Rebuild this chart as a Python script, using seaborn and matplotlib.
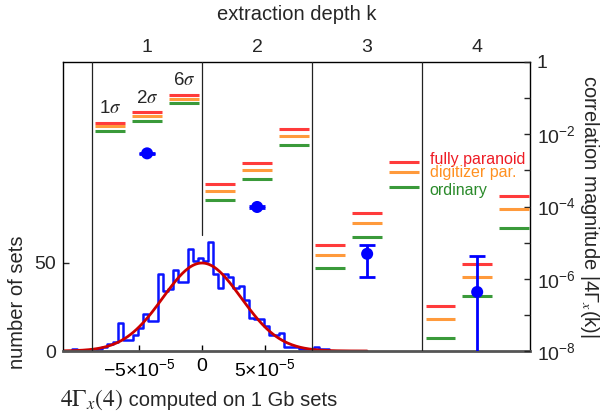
import numpy as np
import pandas as pd
import matplotlib
matplotlib.use("Agg")
import matplotlib.pyplot as plt
import seaborn as sns
from matplotlib.ticker import FixedLocator, FixedFormatter, NullLocator
from matplotlib.offsetbox import TextArea, HPacker, AnnotationBbox

# ---------------- data ----------------
# histogram of 4Gamma_x(4) (bin centres in units of 1e-6) and counts
hist_centers_1e6 = [-101, -97, -93, -89, -85, -81, -77, -73, -69, -65, -61, -57, -53, -49,
                    -45, -41, -37, -33, -29, -25, -21, -17, -13, -9, -5, -1, 3, 7, 11, 15,
                    19, 23, 27, 31, 35, 39, 43, 47, 51, 55, 59, 63, 67, 71, 75, 79, 83, 87,
                    91, 95, 99]
hist_counts = [1, 0, 0, 0, 0, 1, 2, 4, 5, 16, 6, 6, 9, 13,
               21, 17, 17, 44, 34, 35, 46, 39, 39, 58, 51, 53, 51, 62, 44, 36,
               44, 42, 36, 37, 29, 19, 18, 18, 14, 9, 9, 10, 2, 2, 2, 1, 1, 1,
               2, 1, 1]
hist_bin_width = 4e-6

# Gaussian fit parameters
fit_amplitude = 50.0
fit_mean = 0.0
fit_sigma = 3.1e-5
fit_xmin, fit_xmax = -1.1e-4, 1.31e-4

# bounds per extraction depth k, columns: 1 sigma, 2 sigma, 6 sigma
depths = [1, 2, 3, 4]
sigma_labels = ["1", "2", "6"]
fully_paranoid = [[2.09e-2, 4.07e-2, 1.23e-1],
                  [4.2e-4, 1.57e-3, 1.41e-2],
                  [8.5e-6, 6.5e-5, 1.66e-3],
                  [1.78e-7, 2.57e-6, 2.0e-4]]
digitizer_par = [[1.66e-2, 3.24e-2, 9.55e-2],
                 [2.74e-4, 1.05e-3, 9.1e-3],
                 [4.6e-6, 3.4e-5, 8.9e-4],
                 [7.6e-8, 1.10e-6, 8.5e-5]]
ordinary = [[1.23e-2, 2.40e-2, 7.24e-2],
            [1.51e-4, 5.66e-4, 4.9e-3],
            [1.95e-6, 1.41e-5, 3.55e-4],
            [2.34e-8, 3.39e-7, 2.51e-5]]

# measured correlation magnitude with error range
measured = [2.96e-3, 9.7e-5, 4.9e-6, 4.3e-7]
measured_low = [2.8e-3, 9.0e-5, 1.12e-6, 1e-9]
measured_high = [3.1e-3, 1.05e-4, 8.5e-6, 4.3e-6]

series_names = ["fully paranoid", "digitizer par.", "ordinary"]
series_colors = ["#ff3b3b", "#ff9a3c", "#3a9a3a"]
text_colors = ["#ee1c25", "#ff9020", "#2a8a2a"]

# ---------------- style ----------------
sns.set_theme(style="white")
plt.rcParams["font.family"] = ["Liberation Sans", "DejaVu Sans"]
plt.rcParams["mathtext.fontset"] = "stix"

W, H = 607, 413
fig = plt.figure(figsize=(W / 100, H / 100), dpi=100)
L, R, T, B = 63, 530, 62, 351
rect = [L / W, (H - B) / H, (R - L) / W, (B - T) / H]
ax = fig.add_axes(rect)
ax2 = fig.add_axes(rect, facecolor="none")

FS = 14.5
TS = 14

# ---------------- histogram axes ----------------
hist_df = pd.DataFrame({"x": np.array(hist_centers_1e6) * 1e-6,
                        "n": np.array(hist_counts, dtype=float)})
edges = [float(v) for v in np.arange(hist_df["x"].min() - hist_bin_width / 2,
                                     hist_df["x"].max() + hist_bin_width, hist_bin_width)]
sns.histplot(data=hist_df, x="x", weights="n", bins=edges, element="step", fill=False,
             color="#0a14ff", linewidth=1.8, ax=ax)
fx = np.linspace(fit_xmin, fit_xmax, 300)
fy = fit_amplitude * np.exp(-0.5 * ((fx - fit_mean) / fit_sigma) ** 2)
sns.lineplot(x=fx, y=fy, color="#cc0000", linewidth=2, ax=ax)

ax.set_xlim(-1.103e-4, 2.603e-4)
ax.set_ylim(0, 164.2)
ax.xaxis.set_major_locator(FixedLocator([-5e-5, 0, 5e-5]))
ax.xaxis.set_major_formatter(FixedFormatter([r"$\mathregular{-5{\times}10^{-5}}$", "0",
                                             r"$\mathregular{5{\times}10^{-5}}$"]))
ax.yaxis.set_major_locator(FixedLocator([0, 50]))
ax.yaxis.set_major_formatter(FixedFormatter(["0", "50"]))
ax.tick_params(axis="x", direction="in", length=4, width=1, labelsize=TS, pad=5,
               bottom=True, colors="black")
ax.tick_params(axis="y", direction="in", length=4, width=1, labelsize=TS, pad=5, left=True)
for s in ["left", "top", "right"]:
    ax.spines[s].set_color("black")
    ax.spines[s].set_linewidth(1.0)
    ax.spines[s].set_visible(True)
ax.spines["bottom"].set_color("#555555")
ax.spines["bottom"].set_linewidth(2.0)
ax.spines["bottom"].set_visible(True)
ax.set_xlabel("")
ax.set_ylabel("number of sets", fontsize=FS)
ax.yaxis.label.set_va("center")
ax.yaxis.set_label_coords(-0.098, 0.17)

# bottom label: serif math part + sans text
xlab = HPacker(children=[TextArea(r"$4\Gamma_x(4)$", textprops=dict(fontsize=17)),
                         TextArea(" computed on 1 Gb sets", textprops=dict(fontsize=FS))],
               align="baseline", pad=0, sep=0)
ax.add_artist(AnnotationBbox(xlab, (0.29, -0.17), xycoords="axes fraction", frameon=False,
                             box_alignment=(0.5, 0.5), annotation_clip=False))

# ---------------- log axes (top / right) ----------------
ax2.set_yscale("log")
ax2.set_ylim(1e-8, 1)
ax2.set_xlim(0.236, 4.48)
for s in ax2.spines.values():
    s.set_visible(False)
ax2.xaxis.tick_top()
ax2.xaxis.set_label_position("top")
ax2.yaxis.tick_right()
ax2.yaxis.set_label_position("right")
ax2.xaxis.set_major_locator(FixedLocator(depths))
ax2.xaxis.set_major_formatter(FixedFormatter([str(k) for k in depths]))
ax2.tick_params(axis="x", length=0, labelsize=TS, pad=4)
decades = [10.0 ** (-i) for i in range(0, 9)]
ax2.yaxis.set_major_locator(FixedLocator(decades))
ax2.yaxis.set_major_formatter(FixedFormatter(
    ["1" if i == 0 else (r"$\mathregular{10^{-%d}}$" % i if i % 2 == 0 else "")
     for i in range(0, 9)]))
ax2.yaxis.set_minor_locator(NullLocator())
ax2.tick_params(axis="y", direction="in", length=4, width=1, labelsize=TS, pad=5, right=True)
ax2.set_xlabel("extraction depth k", fontsize=FS)
ax2.xaxis.label.set_va("center")
ax2.xaxis.set_label_coords(0.5, 1.163)
ax2.set_ylabel(r"correlation magnitude |4Γ$_x$(k)|", fontsize=FS, rotation=270)
ax2.yaxis.label.set_va("center")
ax2.yaxis.set_label_coords(1.128, 0.5)

# column dividers
for xd in [0.5, 1.5, 2.5, 3.5]:
    ymin = 0.40 if xd == 1.5 else 0.0
    ax2.axvline(xd, ymin=ymin, ymax=1.0, color="#222222", linewidth=0.9, zorder=1)

# bound segments
offsets = [-1 / 3, 0.0, 1 / 3]
half = 0.136
for series, color in zip([fully_paranoid, digitizer_par, ordinary], series_colors):
    for ki, k in enumerate(depths):
        for si, off in enumerate(offsets):
            ax2.hlines(series[ki][si], k + off - half, k + off + half, color=color,
                       linewidth=2.2, zorder=3)

# sigma labels above k=1
for si, off in enumerate(offsets):
    ax2.annotate(sigma_labels[si] + r"$\sigma$", xy=(1 + off, fully_paranoid[0][si]),
                 xytext=(0, 4), textcoords="offset points", ha="center", va="bottom",
                 fontsize=13.5)

# legend texts
for i, (name, c) in enumerate(zip(series_names, text_colors)):
    ax2.text(0.785, [0.664, 0.616, 0.554][i], name, color=c, fontsize=11.5,
             transform=ax2.transAxes, ha="left", va="center")

# measured points
meas = np.array(measured)
yerr = [meas - np.array(measured_low), np.array(measured_high) - meas]
ax2.errorbar(depths, measured, yerr=yerr, fmt="none", ecolor="#0000ff", elinewidth=2,
             capsize=6, capthick=2, zorder=4)
sns.scatterplot(x=depths, y=measured, color="#0000ff", s=75, edgecolor="none", ax=ax2,
                zorder=5)
ax2.set_xlim(0.236, 4.48)
ax2.set_ylim(1e-8, 1)

fig.savefig("out.png", dpi=100)
